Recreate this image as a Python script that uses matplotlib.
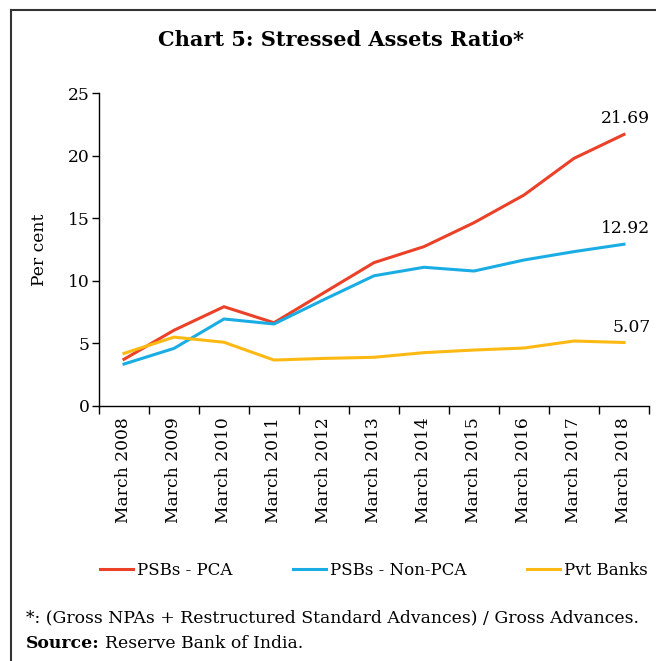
import numpy as np
import matplotlib.pyplot as plt
from matplotlib.lines import Line2D

years = ["March 2008", "March 2009", "March 2010", "March 2011", "March 2012",
         "March 2013", "March 2014", "March 2015", "March 2016", "March 2017",
         "March 2018"]
psb_pca = [3.73, 6.05, 7.93, 6.65, 9.05, 11.45, 12.73, 14.64, 16.85, 19.78, 21.69]
psb_non_pca = [3.35, 4.6, 6.95, 6.55, 8.5, 10.4, 11.08, 10.78, 11.66, 12.33, 12.92]
pvt_banks = [4.2, 5.5, 5.09, 3.67, 3.8, 3.89, 4.26, 4.47, 4.63, 5.19, 5.07]

series = [("PSBs - PCA", psb_pca, "#EA4128"),
          ("PSBs - Non-PCA", psb_non_pca, "#1AADE4"),
          ("Pvt Banks", pvt_banks, "#FDB913")]

plt.rcParams['font.family'] = ['DejaVu Serif']
fs = 12.3

fig = plt.figure(figsize=(6.56, 6.61), dpi=100)
ax = fig.add_axes([0.1509, 0.3858, 0.8384, 0.4735])

x = np.arange(len(years))
for name, vals, col in series:
    ax.plot(x, vals, color=col, lw=2.2, label=name, solid_joinstyle='miter')
    ax.annotate(f"{vals[-1]:.2f}", (x[-1], vals[-1]), xytext=(19, 5),
                textcoords='offset points', ha='right', va='bottom', fontsize=fs)

ax.set_xlim(-0.5, len(years) - 0.5)
ax.set_ylim(0, 25)
ax.set_yticks([0, 5, 10, 15, 20, 25])
ax.set_xticks(x)
ax.set_xticklabels(years, rotation=90, fontsize=fs)
ax.set_xticks(np.arange(-0.5, len(years), 1), minor=True)
ax.tick_params(axis='x', which='major', length=0, pad=8)
ax.tick_params(axis='x', which='minor', length=6, width=1)
ax.tick_params(axis='y', length=5, width=1, labelsize=fs, pad=2)
ax.set_ylabel("Per cent", fontsize=fs, labelpad=14)
for s in ['top', 'right']:
    ax.spines[s].set_visible(False)
for s in ['left', 'bottom']:
    ax.spines[s].set_linewidth(1)

fig.text(0.52, 0.94, "Chart 5: Stressed Assets Ratio*", ha='center', va='center',
         fontsize=15, fontweight='bold')

handles = [Line2D([], [], color=c, lw=2.2) for _, _, c in series]
fig.legend(handles, [n for n, _, _ in series], loc='center', ncol=3,
           bbox_to_anchor=(0.57, 0.137), frameon=False, fontsize=12,
           handlelength=2.0, handletextpad=0.25, columnspacing=3.6,
           borderpad=0, borderaxespad=0)

fs_note = 12.4
fig.text(0.04, 0.065, "*: (Gross NPAs + Restructured Standard Advances) / Gross Advances.",
         fontsize=fs_note, va='center')
src = fig.text(0.04, 0.027, "Source:", fontsize=fs_note, fontweight='bold', va='center')
fig.canvas.draw()
bb = src.get_window_extent().transformed(fig.transFigure.inverted())
fig.text(bb.x1 + 0.007, 0.027, "Reserve Bank of India.", fontsize=fs_note, va='center')

# frame lines at top and left
fig.add_artist(Line2D([0.017, 1.0], [0.985, 0.985], color='#333333', lw=1.5,
                      transform=fig.transFigure))
fig.add_artist(Line2D([0.017, 0.017], [0.0, 0.985], color='#333333', lw=1.5,
                      transform=fig.transFigure))

fig.savefig("out.png", dpi=100)
